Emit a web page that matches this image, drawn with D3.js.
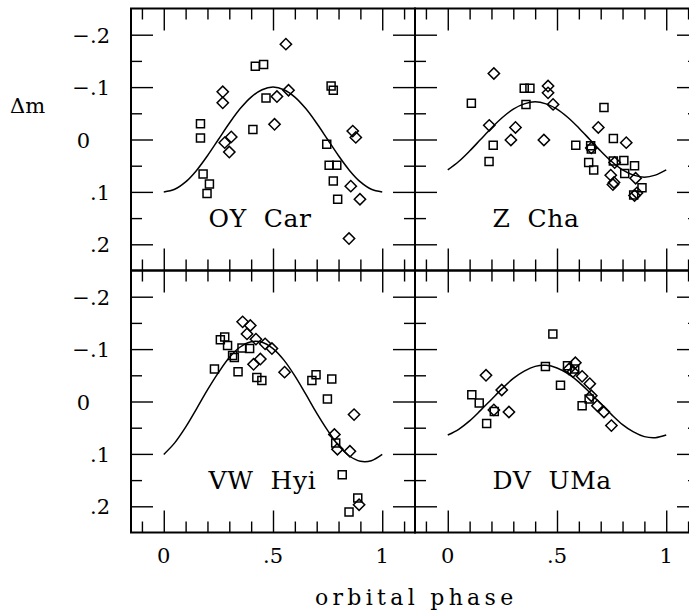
<!DOCTYPE html>
<html>
<head>
<meta charset="utf-8">
<script src="https://cdn.jsdelivr.net/npm/d3@7/dist/d3.min.js"></script>
<style>
  html, body { margin: 0; padding: 0; background: #fff; }
  svg { display: block; }
  text { font-family: "DejaVu Serif", serif; fill: #000; }
</style>
</head>
<body>
<svg id="chart" width="689" height="614"></svg>
<script>
// ---- data -------------------------------------------------------------
// phase grid on which the fitted light-curve models are tabulated
const fitPhase = [0, 0.05, 0.10, 0.15, 0.20, 0.25, 0.30, 0.35, 0.40, 0.45, 0.50,
                  0.55, 0.60, 0.65, 0.70, 0.75, 0.80, 0.85, 0.90, 0.95, 1.00];

// model curves (delta m) for each star
const oyCarFit = [0.100, 0.095, 0.081, 0.059, 0.031, 0.000, -0.031, -0.059, -0.081, -0.095, -0.100,
                  -0.095, -0.081, -0.059, -0.031, 0.000, 0.031, 0.059, 0.081, 0.095, 0.100];
const zChaFit  = [0.058, 0.042, 0.022, 0.000, -0.022, -0.042, -0.058, -0.068, -0.072, -0.068, -0.058,
                  -0.042, -0.022, 0.000, 0.022, 0.042, 0.058, 0.068, 0.072, 0.068, 0.058];
const vwHyiFit = [0.101, 0.079, 0.049, 0.014, -0.022, -0.055, -0.084, -0.104, -0.114, -0.113, -0.101,
                  -0.079, -0.049, -0.014, 0.022, 0.055, 0.084, 0.104, 0.114, 0.113, 0.101];
const dvUmaFit = [0.064, 0.053, 0.037, 0.017, -0.004, -0.025, -0.044, -0.058, -0.067, -0.069, -0.064,
                  -0.053, -0.037, -0.017, 0.004, 0.025, 0.044, 0.058, 0.067, 0.069, 0.064];

// observations: [orbital phase, delta m]
const oyCarSquares = [[0.168,-0.030],[0.168,-0.003],[0.180,0.066],[0.209,0.085],[0.198,0.103],
  [0.419,-0.140],[0.457,-0.143],[0.468,-0.079],[0.408,-0.019],[0.766,-0.102],[0.776,-0.094],
  [0.746,0.009],[0.757,0.049],[0.792,0.049],[0.776,0.079],[0.796,0.114]];
const oyCarDiamonds = [[0.559,-0.182],[0.270,-0.091],[0.270,-0.070],[0.518,-0.082],[0.571,-0.094],
  [0.507,-0.029],[0.309,-0.005],[0.279,0.006],[0.300,0.024],[0.865,-0.016],[0.879,-0.004],
  [0.856,0.089],[0.898,0.114],[0.848,0.189]];

const zChaSquares = [[0.108,-0.069],[0.350,-0.098],[0.376,-0.098],[0.358,-0.067],[0.208,0.011],
  [0.189,0.042],[0.586,0.011],[0.654,0.012],[0.657,0.018],[0.645,0.044],[0.668,0.058],
  [0.715,-0.061],[0.758,-0.002],[0.758,0.041],[0.806,0.040],[0.855,0.050],[0.810,0.065],
  [0.889,0.092],[0.851,0.106]];
const zChaDiamonds = [[0.211,-0.126],[0.459,-0.102],[0.459,-0.089],[0.482,-0.067],[0.190,-0.027],
  [0.310,-0.023],[0.289,0.001],[0.440,0.001],[0.689,-0.023],[0.817,0.006],[0.657,0.016],
  [0.764,0.044],[0.746,0.068],[0.761,0.082],[0.756,0.086],[0.860,0.074],[0.866,0.102],[0.855,0.107]];

const vwHyiSquares = [[0.232,-0.062],[0.259,-0.118],[0.279,-0.123],[0.292,-0.107],[0.315,-0.088],
  [0.323,-0.084],[0.340,-0.057],[0.358,-0.102],[0.393,-0.101],[0.426,-0.046],[0.449,-0.040],
  [0.678,-0.040],[0.697,-0.051],[0.769,-0.043],[0.749,-0.005],[0.787,0.079],[0.817,0.140],
  [0.888,0.184],[0.848,0.211]];
const vwHyiDiamonds = [[0.361,-0.152],[0.396,-0.145],[0.381,-0.129],[0.422,-0.119],[0.464,-0.110],
  [0.495,-0.101],[0.442,-0.081],[0.411,-0.071],[0.553,-0.056],[0.871,0.025],[0.781,0.063],
  [0.795,0.091],[0.852,0.095],[0.894,0.197]];

const dvUmaSquares = [[0.481,-0.129],[0.447,-0.067],[0.548,-0.068],[0.581,-0.062],[0.516,-0.031],
  [0.110,-0.013],[0.144,0.003],[0.213,0.019],[0.178,0.042],[0.647,-0.005],[0.615,0.008]];
const dvUmaDiamonds = [[0.175,-0.050],[0.247,-0.022],[0.211,0.016],[0.280,0.020],[0.584,-0.074],
  [0.555,-0.062],[0.573,-0.057],[0.615,-0.048],[0.650,-0.034],[0.657,-0.011],[0.685,0.008],
  [0.715,0.020],[0.749,0.046]];

const starNames = ["OY  Car", "Z  Cha", "VW  Hyi", "DV  UMa"];

// axis ticks and their labels
const xMajorTicks = [0, 0.5, 1];
const xMinorTicks = [-0.1, 0.1, 0.2, 0.3, 0.4, 0.6, 0.7, 0.8, 0.9, 1.1];
const xTickLabels = ["0", ".5", "1"];
const yMajorTicks = [-0.2, -0.1, 0, 0.1, 0.2];
const yMinorTicks = [-0.15, -0.05, 0.05, 0.15];
const yTickLabels = ["\u2212.2", "\u2212.1", "0", ".1", ".2"];

// ---- layout -----------------------------------------------------------
const svg = d3.select("#chart");
const colX = [[131, 415], [415, 699]];
const rowY = [[8.5, 270.5], [270.5, 532.5]];
const xDomain = [-0.15, 1.15];
const yDomain = [-0.25, 0.25];

const panels = [
  { name: starNames[0], fit: oyCarFit, squares: oyCarSquares, diamonds: oyCarDiamonds, col: 0, row: 0 },
  { name: starNames[1], fit: zChaFit,  squares: zChaSquares,  diamonds: zChaDiamonds,  col: 1, row: 0 },
  { name: starNames[2], fit: vwHyiFit, squares: vwHyiSquares, diamonds: vwHyiDiamonds, col: 0, row: 1 },
  { name: starNames[3], fit: dvUmaFit, squares: dvUmaSquares, diamonds: dvUmaDiamonds, col: 1, row: 1 }
];

const longTick = 22, shortTick = 11;

function styleAxis(g) {
  g.select(".domain").remove();
  g.selectAll(".tick line").attr("stroke", "#000").attr("stroke-width", 1.4);
  g.selectAll(".tick text").remove();
}

panels.forEach(p => {
  const x = d3.scaleLinear().domain(xDomain).range(colX[p.col]);
  const y = d3.scaleLinear().domain(yDomain).range(rowY[p.row]);
  const [x0, x1] = x.range();
  const [y0, y1] = y.range();
  const g = svg.append("g");

  // inward ticks on all four sides
  const sides = [
    { make: d3.axisTop,    scale: x, pos: `translate(0,${y0})`, major: xMajorTicks, minor: xMinorTicks },
    { make: d3.axisBottom, scale: x, pos: `translate(0,${y1})`, major: xMajorTicks, minor: xMinorTicks },
    { make: d3.axisLeft,   scale: y, pos: `translate(${x0},0)`, major: yMajorTicks, minor: yMinorTicks },
    { make: d3.axisRight,  scale: y, pos: `translate(${x1},0)`, major: yMajorTicks, minor: yMinorTicks }
  ];
  sides.forEach(s => {
    g.append("g").attr("transform", s.pos)
      .call(s.make(s.scale).tickValues(s.major).tickSize(-longTick).tickSizeOuter(0))
      .call(styleAxis);
    g.append("g").attr("transform", s.pos)
      .call(s.make(s.scale).tickValues(s.minor).tickSize(-shortTick).tickSizeOuter(0))
      .call(styleAxis);
  });

  // frame
  g.append("rect")
    .attr("x", x0).attr("y", y0)
    .attr("width", x1 - x0).attr("height", y1 - y0)
    .attr("fill", "none").attr("stroke", "#000").attr("stroke-width", 2);

  // fitted curve
  const line = d3.line()
    .x((d, i) => x(fitPhase[i]))
    .y(d => y(d))
    .curve(d3.curveCatmullRom);
  g.append("path")
    .datum(p.fit)
    .attr("d", line)
    .attr("fill", "none").attr("stroke", "#000").attr("stroke-width", 1.5);

  // observations: open squares and open diamonds
  const sq = d3.symbol().type(d3.symbolSquare).size(64);
  g.selectAll(".sq").data(p.squares).join("path")
    .attr("d", sq)
    .attr("transform", d => `translate(${x(d[0])},${y(d[1])})`)
    .attr("fill", "none").attr("stroke", "#000").attr("stroke-width", 1.5);
  g.selectAll(".dm").data(p.diamonds).join("path")
    .attr("d", sq)
    .attr("transform", d => `translate(${x(d[0])},${y(d[1])}) rotate(45)`)
    .attr("fill", "none").attr("stroke", "#000").attr("stroke-width", 1.5);

  // star name
  g.append("text")
    .attr("x", x(0.205)).attr("y", y(0.167))
    .attr("font-size", 25)
    .attr("letter-spacing", 0.6)
    .style("white-space", "pre")
    .text(p.name);

  // y tick labels on the left column
  if (p.col === 0) {
    yMajorTicks.forEach((v, i) => {
      g.append("text")
        .attr("x", x0 - 21 - (v === 0 ? 20 : 0))
        .attr("y", y(v) + 8)
        .attr("text-anchor", "end")
        .attr("font-size", 21)
        .text(yTickLabels[i]);
    });
  }
  // x tick labels on the bottom row
  if (p.row === 1) {
    xMajorTicks.forEach((v, i) => {
      g.append("text")
        .attr("x", x(v)).attr("y", y1 + 30)
        .attr("text-anchor", "middle")
        .attr("font-size", 21)
        .text(xTickLabels[i]);
    });
  }
});

// axis titles
svg.append("text")
  .attr("x", 10).attr("y", 113)
  .attr("font-size", 21)
  .text("\u0394m");
svg.append("text")
  .attr("x", 315).attr("y", 605)
  .attr("font-size", 22)
  .attr("letter-spacing", 4.3)
  .text("orbital phase");
</script>
</body>
</html>
